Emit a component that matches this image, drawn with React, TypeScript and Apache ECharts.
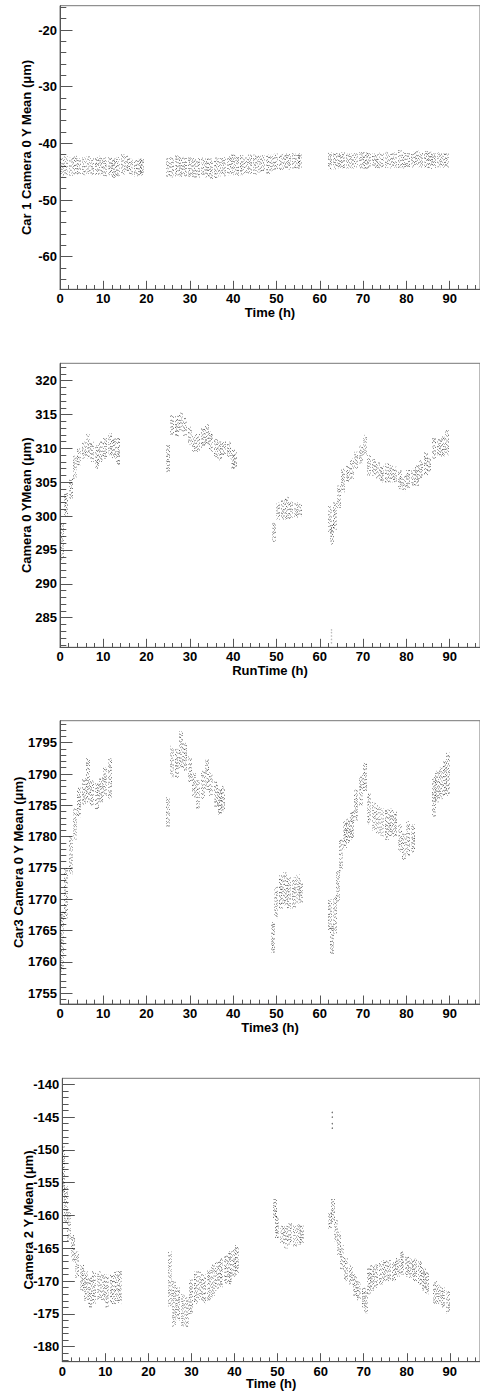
import React, { useEffect, useRef } from "react";
import * as echarts from "echarts";

// ---------- DATA (1 h bins: centre time, low edge, high edge of the point cloud) ----------
const P1_T = [0.5,1.5,2.5,3.5,4.5,5.5,6.5,7.5,8.5,9.5,10.5,11.5,12.5,13.5,14.5,15.5,16.5,17.5,18.5,19.0,
  25.0,26.0,27.0,28.0,29.0,30.0,31.0,32.0,33.0,34.0,35.0,36.0,37.0,38.0,39.0,40.0,41.0,42.0,43.0,44.0,45.0,46.0,47.0,48.0,49.0,50.0,51.0,52.0,53.0,54.0,55.0,55.5,
  62.5,63.5,64.5,65.5,66.5,67.5,68.5,69.5,70.5,71.5,72.5,73.5,74.5,75.5,76.5,77.5,78.5,79.5,80.5,81.5,82.5,83.5,84.5,85.5,86.5,87.5,88.5,89.5];
const P1_LO = [-45.8,-45.6,-45.7,-45.5,-45.6,-45.6,-45.4,-45.7,-45.5,-45.6,-45.8,-45.6,-46.3,-45.9,-45.5,-45.2,-45.6,-45.8,-45.7,-45.6,
  -45.9,-46.0,-45.8,-45.9,-45.8,-45.9,-46.0,-46.0,-45.9,-46.0,-46.5,-46.1,-45.8,-45.8,-45.7,-45.6,-45.7,-45.6,-45.5,-45.4,-45.5,-45.2,-45.1,-45.4,-44.9,-44.6,-44.7,-44.5,-44.6,-44.4,-44.5,-44.4,
  -44.6,-44.6,-44.5,-44.4,-44.4,-44.5,-44.3,-44.4,-44.5,-44.4,-44.3,-44.4,-44.2,-44.3,-44.4,-44.3,-44.3,-44.4,-44.5,-44.3,-44.2,-44.4,-44.3,-44.6,-44.3,-44.2,-44.3,-44.4];
const P1_HI = [-42.4,-42.3,-42.5,-42.2,-42.6,-42.5,-42.3,-42.6,-42.5,-42.2,-42.5,-42.3,-42.6,-42.4,-41.9,-42.2,-42.6,-42.8,-42.7,-42.8,
  -42.6,-42.4,-42.0,-42.4,-42.3,-42.5,-42.6,-42.6,-42.5,-42.6,-42.7,-42.5,-42.6,-42.4,-42.3,-42.0,-42.2,-42.1,-42.3,-42.0,-42.0,-42.2,-42.1,-42.0,-41.9,-41.8,-41.9,-41.8,-41.9,-41.7,-41.8,-41.9,
  -41.6,-41.7,-41.8,-41.6,-41.7,-41.8,-41.7,-41.4,-41.6,-41.7,-41.8,-41.6,-41.7,-41.5,-41.8,-41.6,-41.2,-41.6,-41.7,-41.5,-41.3,-41.6,-41.4,-41.5,-41.7,-41.6,-41.7,-41.8];

const P2_T = [0.5,1.5,2.5,3.5,4.5,5.5,6.5,7.5,8.5,9.5,10.5,11.5,12.5,13.5,
  24.9,26.0,27.0,28.0,29.0,30.0,31.0,32.0,33.0,34.0,35.0,36.0,37.0,38.0,39.0,40.0,40.5,
  49.5,50.5,51.5,52.5,53.5,54.5,55.5,
  62.3,62.9,63.5,64.5,65.5,66.5,67.5,68.5,69.5,70.5,71.5,72.5,73.5,74.5,75.5,76.5,77.5,78.5,79.5,80.5,81.5,82.5,83.5,84.5,85.2,86.5,87.5,88.5,89.5];
const P2_LO = [293.5,300.0,302.5,305.5,307.5,308.5,308.5,308.0,307.0,308.0,308.5,309.0,308.5,307.5,
  306.5,312.0,311.8,312.5,311.8,310.5,309.3,309.5,310.0,310.5,309.5,308.5,308.2,309.0,308.5,307.0,307.0,
  296.2,299.5,299.5,299.5,299.5,299.8,300.0,
  297.5,295.8,298.0,301.0,303.5,305.0,305.5,307.0,307.8,309.0,306.0,306.0,305.5,305.0,305.0,305.0,304.8,304.0,303.7,304.2,304.5,304.5,305.5,306.0,306.5,308.5,309.0,308.8,309.0];
const P2_HI = [299.0,303.5,305.5,309.0,310.0,311.0,312.2,311.0,310.5,311.0,311.5,312.2,311.5,311.5,
  310.5,315.0,314.8,315.3,314.5,313.2,312.0,312.2,313.0,313.6,312.5,311.5,311.0,311.0,311.0,309.8,309.5,
  299.0,302.0,302.5,303.0,302.2,302.0,301.8,
  301.5,299.0,302.0,304.5,307.0,307.5,308.5,309.5,310.5,312.0,309.0,308.5,308.0,307.5,307.8,307.5,307.3,306.8,306.0,306.8,307.0,307.5,308.3,309.5,308.5,311.5,311.5,311.8,312.7];

const P3_T = [0.5,1.5,2.5,3.5,4.5,5.5,6.5,7.5,8.5,9.5,10.5,11.5,
  24.9,26.0,27.0,28.0,29.0,30.0,31.0,32.0,33.0,34.0,35.0,36.0,37.0,37.6,
  49.3,50.0,51.0,52.0,53.0,54.0,55.0,55.6,
  62.3,62.9,63.5,64.3,65.0,65.8,66.5,67.5,68.5,69.5,70.5,71.5,72.5,73.5,74.5,75.5,76.5,77.5,78.5,79.5,80.5,81.5,
  86.3,87.0,88.0,89.0,89.7];
const P3_LO = [1758.5,1767.0,1774.0,1779.5,1783.0,1785.0,1785.5,1785.0,1784.3,1785.5,1786.5,1786.0,
  1781.5,1789.5,1789.3,1791.0,1790.5,1788.5,1786.3,1784.5,1786.0,1787.5,1786.5,1784.8,1783.5,1784.0,
  1761.5,1767.0,1768.5,1769.0,1768.5,1768.5,1769.3,1769.5,
  1765.0,1761.0,1764.5,1769.5,1774.5,1778.0,1779.0,1779.5,1782.5,1785.0,1787.0,1782.0,1781.0,1780.5,1780.0,1779.5,1780.0,1780.0,1777.5,1776.3,1777.0,1777.5,
  1783.2,1785.5,1786.0,1786.5,1786.5];
const P3_HI = [1768.0,1775.0,1780.0,1784.5,1787.8,1789.5,1792.5,1789.0,1788.5,1789.5,1791.0,1792.5,
  1786.3,1794.5,1794.0,1796.8,1795.0,1792.8,1790.3,1789.0,1790.5,1792.5,1790.3,1788.8,1787.5,1788.2,
  1766.5,1772.0,1773.8,1774.3,1773.5,1773.5,1774.0,1773.0,
  1770.0,1766.0,1770.5,1774.5,1779.5,1782.5,1783.0,1784.0,1787.5,1790.0,1791.8,1787.0,1785.5,1785.0,1784.5,1784.3,1784.5,1784.0,1782.0,1780.5,1782.5,1782.0,
  1789.5,1790.5,1791.0,1792.0,1793.5];

const P4_T = [0.3,0.8,1.5,2.5,3.5,4.5,5.5,6.5,7.5,8.5,9.5,10.5,11.5,12.5,13.5,
  25.0,26.0,27.0,28.0,29.0,30.0,31.0,32.0,33.0,34.0,35.0,36.0,37.0,38.0,39.0,40.0,40.7,
  49.4,50.0,51.0,52.0,53.0,54.0,55.0,55.6,
  62.2,62.8,63.5,64.3,65.0,66.0,67.0,68.0,69.0,70.0,70.6,71.3,72.0,73.0,74.0,75.0,76.0,77.0,78.0,79.0,80.0,81.0,82.0,83.0,84.0,84.8,
  86.5,87.5,88.5,89.5];
const P4_LO = [-157.0,-161.0,-164.0,-167.0,-169.5,-171.5,-173.0,-174.0,-173.5,-173.0,-173.0,-174.0,-173.5,-173.5,-173.5,
  -174.0,-177.0,-176.0,-177.0,-177.0,-175.0,-173.5,-173.0,-173.5,-173.0,-172.5,-171.5,-171.0,-170.5,-170.5,-169.5,-169.0,
  -160.5,-163.5,-164.5,-165.0,-164.5,-164.8,-164.5,-164.2,
  -162.2,-161.0,-164.0,-166.0,-168.3,-170.0,-170.5,-172.3,-173.0,-174.0,-175.0,-172.0,-171.5,-171.0,-170.5,-170.0,-170.0,-170.0,-169.3,-169.0,-169.3,-169.5,-170.0,-170.5,-171.5,-172.0,
  -173.5,-173.5,-174.0,-175.0];
const P4_HI = [-149.5,-155.5,-159.5,-163.0,-165.5,-167.5,-168.5,-169.3,-168.5,-168.5,-169.0,-169.0,-169.0,-168.5,-168.5,
  -165.5,-170.0,-171.0,-172.0,-172.5,-169.8,-168.5,-168.5,-169.0,-168.3,-167.5,-167.0,-166.5,-166.0,-165.5,-165.0,-164.5,
  -157.5,-160.0,-161.5,-161.5,-161.2,-161.5,-161.3,-161.5,
  -159.5,-157.5,-160.5,-162.5,-164.5,-166.5,-167.5,-169.0,-170.0,-171.0,-171.5,-168.0,-167.5,-167.5,-167.0,-166.8,-166.8,-167.0,-166.5,-165.5,-166.0,-166.5,-166.5,-167.0,-168.0,-168.5,
  -170.0,-170.5,-171.0,-171.5];

// isolated stray points
const P2_OUT_T = [62.7,62.7,62.7,62.7,62.7];
const P2_OUT_V = [281.3,281.8,282.3,282.8,283.2];
const P4_OUT_T = [62.7,62.7,62.7,62.7];
const P4_OUT_V = [-144.3,-145.0,-146.0,-146.7];

// axis ticks / labels
const X_TICKS = [0,10,20,30,40,50,60,70,80,90];
const Y1_TICKS = [-60,-50,-40,-30,-20];
const Y2_TICKS = [285,290,295,300,305,310,315,320];
const Y3_TICKS = [1755,1760,1765,1770,1775,1780,1785,1790,1795];
const Y4_TICKS = [-180,-175,-170,-165,-160,-155,-150,-145,-140];

const X_TITLES = ["Time (h)", "RunTime (h)", "Time3 (h)", "Time (h)"];
const Y_TITLES = ["Car 1 Camera 0 Y Mean (\u03bcm)", "Camera 0 YMean (\u03bcm)", "Car3 Camera 0 Y Mean (\u03bcm)", "Camera 2 Y Mean (\u03bcm)"];

function zip3(t: number[], lo: number[], hi: number[]) {
  return t.map((v, i) => [v, lo[i], hi[i]]);
}

function range(a: number, b: number, step: number) {
  const out: number[] = [];
  for (let v = a; v <= b + 1e-9; v += step) out.push(Math.round(v * 1000) / 1000);
  return out;
}

const FONT = "Liberation Sans";
const AX = "#555";

// deterministic visual jitter for the stipple texture (style only, not data)
function hsh(n: number) {
  const s = Math.sin(n * 12.9898 + 78.233) * 43758.5453;
  return s - Math.floor(s);
}

function renderBins(params: any, api: any) {
  const t = api.value(0);
  const lo = api.value(1);
  const hi = api.value(2);
  const a = api.coord([t - 0.5, hi]);
  const b = api.coord([t + 0.5, lo]);
  const n = Math.max(1, Math.round(b[0] - a[0]));
  const children: any[] = [];
  const seed = params.seriesIndex * 997 + params.dataIndex * 13;
  for (let i = 0; i < n; i++) {
    const x = Math.round(a[0]) + i + 0.5;
    const s = seed + i * 3.1;
    const dash: number[] = [];
    for (let j = 0; j < 7; j++) {
      dash.push(0.6 + hsh(s + j * 1.7) * 0.6);
      dash.push(1.0 + hsh(s + j * 2.3 + 0.5) * 3.2);
    }
    children.push({
      type: "line",
      shape: { x1: x, y1: a[1], x2: x, y2: b[1] },
      style: {
        stroke: "#000",
        lineWidth: 0.9,
        lineDash: dash,
        lineDashOffset: hsh(s + 0.9) * 12,
        opacity: 0.4 + hsh(s + 0.3) * 0.3,
      },
      silent: true,
    });
  }
  return { type: "group", children };
}

export default function App() {
  const ref = useRef<HTMLDivElement>(null);
  useEffect(() => {
    document.body.style.margin = "0";
    const chart = echarts.init(ref.current!, null, { renderer: "svg" });

    const grids = [
      { left: 60, top: 5.7, width: 420, height: 283.6 },
      { left: 60, top: 363.3, width: 420, height: 284 },
      { left: 60, top: 720.7, width: 420, height: 283.3 },
      { left: 62.3, top: 1078.3, width: 417.7, height: 283.4 },
    ];
    const yRanges = [[-65.75, -15.7], [280.63, 322.57], [1753.29, 1798.51], [-182.29, -139.09]];
    const yTicks = [Y1_TICKS, Y2_TICKS, Y3_TICKS, Y4_TICKS];
    const yMinorStep = [2, 1, 1, 1];
    const yNameGap = [27, 27, 35, 27];
    const xNameGap = [17, 17, 17, 16];
    const data = [zip3(P1_T, P1_LO, P1_HI), zip3(P2_T, P2_LO, P2_HI), zip3(P3_T, P3_LO, P3_HI), zip3(P4_T, P4_LO, P4_HI)];

    const xAxis: any[] = [];
    const yAxis: any[] = [];
    const series: any[] = [];
    const xMinor = range(0, 97, 2).filter((v) => v % 10 !== 0);
    const labelStyle = { fontFamily: FONT, fontWeight: "bold", fontSize: 13, color: "#000" };

    grids.forEach((g, k) => {
      const [ymin, ymax] = yRanges[k];
      const yMinor = range(Math.ceil(ymin), Math.floor(ymax), 1).filter(
        (v) => (v % yMinorStep[k] === 0) && !yTicks[k].includes(v)
      );
      xAxis.push({
        type: "value", gridIndex: k, min: 0, max: 97, position: "bottom",
        name: X_TITLES[k], nameLocation: "middle", nameGap: xNameGap[k], nameMoveOverlap: false,
        nameTextStyle: { ...labelStyle, lineHeight: 12 },
        axisLine: { show: true, onZero: false, lineStyle: { color: AX, width: 1 } },
        axisTick: { show: true, inside: true, length: 8.5, customValues: X_TICKS, lineStyle: { color: AX } },
        axisLabel: { show: true, customValues: X_TICKS, margin: 3.5, lineHeight: 12, formatter: (v: number) => String(v), ...labelStyle },
        splitLine: { show: false },
      });
      xAxis.push({
        type: "value", gridIndex: k, min: 0, max: 97, position: "bottom",
        axisLine: { show: false },
        axisTick: { show: true, inside: true, length: 4.3, customValues: xMinor, lineStyle: { color: AX } },
        axisLabel: { show: false },
        splitLine: { show: false },
      });
      yAxis.push({
        type: "value", gridIndex: k, min: ymin, max: ymax, position: "left",
        name: Y_TITLES[k], nameLocation: "middle", nameGap: yNameGap[k], nameMoveOverlap: false,
        nameTextStyle: { ...labelStyle, lineHeight: 13 },
        axisLine: { show: true, onZero: false, lineStyle: { color: AX, width: 1 } },
        axisTick: { show: true, inside: true, length: 12.5, customValues: yTicks[k], lineStyle: { color: AX } },
        axisLabel: { show: true, customValues: yTicks[k], margin: 3, formatter: (v: number) => String(v), ...labelStyle },
        splitLine: { show: false },
      });
      yAxis.push({
        type: "value", gridIndex: k, min: ymin, max: ymax, position: "left",
        axisLine: { show: false },
        axisTick: { show: true, inside: true, length: 6.3, customValues: yMinor, lineStyle: { color: AX } },
        axisLabel: { show: false },
        splitLine: { show: false },
      });
      series.push({
        type: "custom", xAxisIndex: 2 * k, yAxisIndex: 2 * k, clip: true, silent: true,
        renderItem: renderBins, data: data[k], encode: { x: 0, y: [1, 2] },
      });
    });

    series.push({
      type: "scatter", xAxisIndex: 2, yAxisIndex: 2, symbolSize: 1.5, silent: true,
      itemStyle: { color: "#aaa" }, data: P2_OUT_T.map((t, i) => [t, P2_OUT_V[i]]),
    });
    series.push({
      type: "scatter", xAxisIndex: 6, yAxisIndex: 6, symbolSize: 1.5, silent: true,
      itemStyle: { color: "#555" }, data: P4_OUT_T.map((t, i) => [t, P4_OUT_V[i]]),
    });

    chart.setOption({
      animation: false,
      backgroundColor: "#fff",
      grid: grids.map((g) => ({ ...g, show: true, borderColor: "#777", borderWidth: 1, backgroundColor: "transparent", outerBoundsMode: "none", containLabel: false })),
      xAxis, yAxis, series,
    });
    return () => chart.dispose();
  }, []);
  return <div ref={ref} style={{ width: 480, height: 1391 }} />;
}
